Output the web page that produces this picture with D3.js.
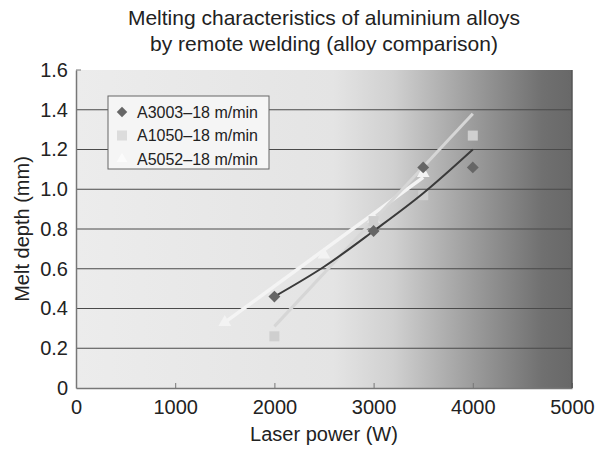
<!DOCTYPE html>
<html lang="en">
  <head>
    <meta charset="utf-8" />
    <script src="https://cdn.jsdelivr.net/npm/d3@7/dist/d3.min.js"></script>
    <title>Melting characteristics</title>
    <style>
      body { margin: 0; background: #fff; }
      text { font-family: "Liberation Sans", Arial, sans-serif; fill: #222; }
    </style>
  </head>
  <body>
    <div id="container"></div>

    <script type="module">
      // series
      const a3003Power = [2000, 3000, 3500, 4000];
      const a3003Depth = [0.46, 0.79, 1.11, 1.11];
      const a1050Power = [2000, 3000, 3500, 4000];
      const a1050Depth = [0.26, 0.84, 0.97, 1.27];
      const a5052Power = [1500, 2500, 3000, 3500];
      const a5052Depth = [0.33, 0.67, 0.85, 1.08];

      // trend lines as drawn in the chart
      const a3003TrendPower = [2000, 2500, 3000, 3500, 4000];
      const a3003TrendDepth = [0.46, 0.61, 0.79, 0.98, 1.2];
      const a1050TrendPower = [2000, 4000];
      const a1050TrendDepth = [0.31, 1.38];
      const a5052TrendPower = [1500, 3500];
      const a5052TrendDepth = [0.33, 1.06];

      const xTicks = [0, 1000, 2000, 3000, 4000, 5000];
      const yTicks = [0, 0.2, 0.4, 0.6, 0.8, 1.0, 1.2, 1.4, 1.6];
      const legendLabels = ["A3003\u201318 m/min", "A1050\u201318 m/min", "A5052\u201318 m/min"];
      const titleLines = ["Melting characteristics of aluminium alloys", "by remote welding (alloy comparison)"];

      const width = 599;
      const height = 450;
      const margin = { top: 70, right: 27, bottom: 62, left: 76 };

      const svg = d3.select("#container").append("svg").attr("width", width).attr("height", height);

      const x = d3.scaleLinear().domain([0, 5000]).range([margin.left, width - margin.right]);
      const y = d3.scaleLinear().domain([0, 1.6]).range([height - margin.bottom, margin.top]);

      // shaded background
      const grad = svg.append("defs").append("linearGradient").attr("id", "bg").attr("x1", "0%").attr("x2", "100%");
      grad.append("stop").attr("offset", "0%").attr("stop-color", "#ececec");
      grad.append("stop").attr("offset", "52%").attr("stop-color", "#e4e4e4");
      grad.append("stop").attr("offset", "64%").attr("stop-color", "#d0d0d0");
      grad.append("stop").attr("offset", "80%").attr("stop-color", "#9c9c9c");
      grad.append("stop").attr("offset", "94%").attr("stop-color", "#707070");
      grad.append("stop").attr("offset", "100%").attr("stop-color", "#686868");

      svg.append("rect")
        .attr("x", x(0)).attr("y", y(1.6))
        .attr("width", x(5000) - x(0)).attr("height", y(0) - y(1.6))
        .attr("fill", "url(#bg)");

      // gridlines
      svg.append("g").selectAll("line").data(yTicks.filter((d) => d > 0 && d < 1.6)).join("line")
        .attr("x1", x(0)).attr("x2", x(5000))
        .attr("y1", (d) => y(d)).attr("y2", (d) => y(d))
        .attr("stroke", "#4a4a4a").attr("stroke-width", 1);

      // axes
      const xAxis = svg.append("g").attr("transform", `translate(0,${y(0)})`)
        .call(d3.axisBottom(x).tickValues(xTicks).tickSizeInner(-5).tickSizeOuter(0).tickPadding(12).tickFormat(d3.format("d")));
      xAxis.select(".domain").attr("stroke", "#777").attr("stroke-width", 1.5);
      xAxis.selectAll(".tick line").attr("stroke", "#777");
      xAxis.selectAll("text").attr("font-size", 20).attr("fill", "#222");

      const yAxis = svg.append("g").attr("transform", `translate(${x(0)},0)`)
        .call(d3.axisLeft(y).tickValues(yTicks).tickSize(0).tickPadding(8).tickFormat((d) => (d === 0 ? "0" : d3.format(".1f")(d))));
      yAxis.select(".domain").attr("stroke", "#777").attr("stroke-width", 1.5);
      yAxis.selectAll("text").attr("font-size", 20).attr("fill", "#222");

      svg.append("line")
        .attr("x1", x(0)).attr("x2", x(0) + 5).attr("y1", y(1.6)).attr("y2", y(1.6))
        .attr("stroke", "#777");
      svg.append("line")
        .attr("x1", x(5000)).attr("x2", x(5000)).attr("y1", y(1.6)).attr("y2", y(0))
        .attr("stroke", "#555").attr("stroke-width", 1.5);

      // trend lines
      const line = d3.line().x((d) => x(d[0])).y((d) => y(d[1])).curve(d3.curveMonotoneX);
      const zip = (a, b) => a.map((v, i) => [v, b[i]]);

      svg.append("path").datum(zip(a5052TrendPower, a5052TrendDepth))
        .attr("d", line).attr("fill", "none").attr("stroke", "#f4f4f4").attr("stroke-width", 3.5);
      svg.append("path").datum(zip(a1050TrendPower, a1050TrendDepth))
        .attr("d", line).attr("fill", "none").attr("stroke", "#d6d6d6").attr("stroke-width", 3);

      // markers
      svg.append("g").selectAll("path").data(zip(a5052Power, a5052Depth)).join("path")
        .attr("transform", (d) => `translate(${x(d[0])},${y(d[1])})`)
        .attr("d", d3.symbol(d3.symbolTriangle, 70))
        .attr("fill", "#f3f3f3");
      svg.append("g").selectAll("rect").data(zip(a1050Power, a1050Depth)).join("rect")
        .attr("x", (d) => x(d[0]) - 5).attr("y", (d) => y(d[1]) - 5)
        .attr("width", 10).attr("height", 10)
        .attr("fill", "#cfcfcf");

      svg.append("path").datum(zip(a3003TrendPower, a3003TrendDepth))
        .attr("d", line).attr("fill", "none").attr("stroke", "#3a3a3a").attr("stroke-width", 2);

      svg.append("g").selectAll("path").data(zip(a3003Power, a3003Depth)).join("path")
        .attr("transform", (d) => `translate(${x(d[0])},${y(d[1])})`)
        .attr("d", d3.symbol(d3.symbolDiamond2, 90))
        .attr("fill", "#666");

      // legend
      const lg = svg.append("g").attr("transform", "translate(108,96)");
      lg.append("rect").attr("width", 161).attr("height", 73).attr("fill", "#f5f5f5").attr("stroke", "#666");
      const rows = lg.selectAll("g").data(legendLabels).join("g")
        .attr("transform", (d, i) => `translate(0,${16 + i * 23.5})`);
      rows.append("text").attr("x", 29).attr("dy", "0.35em").attr("font-size", 16).text((d) => d);
      rows.filter((d, i) => i === 0).append("path")
        .attr("transform", "translate(14,0)").attr("d", d3.symbol(d3.symbolDiamond2, 70)).attr("fill", "#666");
      rows.filter((d, i) => i === 1).append("rect")
        .attr("x", 9).attr("y", -5).attr("width", 10).attr("height", 10).attr("fill", "#dcdcdc");
      rows.filter((d, i) => i === 2).append("path")
        .attr("transform", "translate(14,0)").attr("d", d3.symbol(d3.symbolTriangle, 50)).attr("fill", "#fbfbfb");

      // titles
      svg.append("g").selectAll("text").data(titleLines).join("text")
        .attr("x", 324).attr("y", (d, i) => 25 + i * 26)
        .attr("text-anchor", "middle").attr("font-size", 21).text((d) => d);

      svg.append("text").attr("x", (x(0) + x(5000)) / 2).attr("y", 441)
        .attr("text-anchor", "middle").attr("font-size", 20).text("Laser power (W)");
      svg.append("text")
        .attr("transform", `translate(29,${(y(0) + y(1.6)) / 2}) rotate(-90)`)
        .attr("text-anchor", "middle").attr("font-size", 20).text("Melt depth (mm)");
    </script>
  </body>
